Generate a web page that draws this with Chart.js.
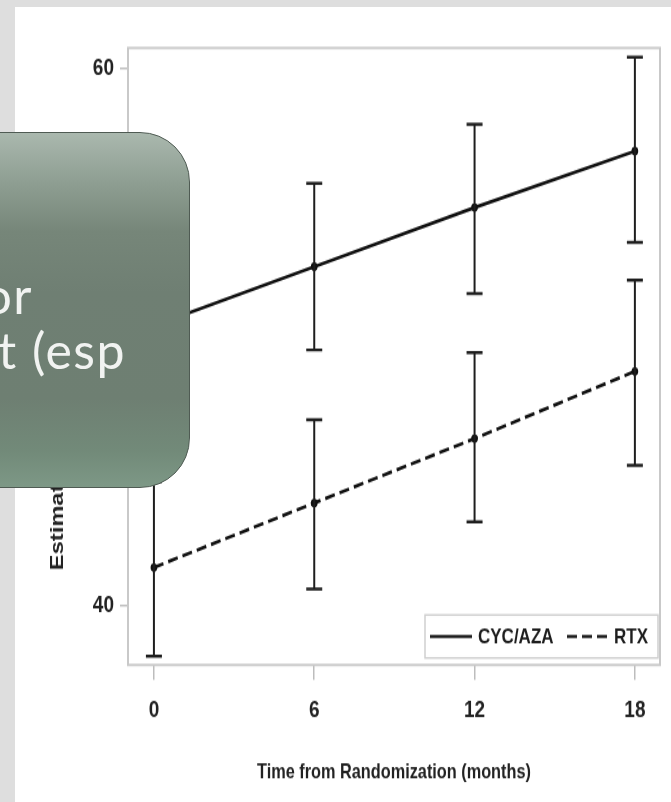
<!DOCTYPE html>
<html>
<head>
<meta charset="utf-8">
<script src="https://cdn.jsdelivr.net/npm/chart.js@4.4.1/dist/chart.umd.min.js"></script>
<style>
  html, body { margin: 0; padding: 0; }
  body { width: 671px; height: 802px; background: #dedede; position: relative; overflow: hidden; }
  #panel { position: absolute; left: 15px; top: 7px; right: 0; bottom: 0; background: #ffffff; }
  /* ảnh gốc bị kéo giãn theo chiều dọc, nên vẽ thấp hơn rồi giãn ra */
  #wrap { position: absolute; left: 0; top: 0; width: 671px; height: 642px; transform: scaleY(1.2492); transform-origin: 0 0; }
  #note {
    position: absolute; left: -60px; top: 132px; width: 248px; height: 354px;
    border: 1.5px solid #4f5b53; border-radius: 50px;
    background: linear-gradient(to bottom, #aab8ae 0%, #8e9e92 14%, #768679 28%, #6f7f73 45%, #6e7f72 75%, #728a79 90%, #7d9886 100%);
    font-family: "Lato", "Open Sans", sans-serif; font-weight: 400; color: #f1f3f1;
    font-size: 50px; line-height: 48px; letter-spacing: 1.5px;
  }
  #note span { position: absolute; white-space: nowrap; }
</style>
</head>
<body>
<div id="panel"></div>
<div id="wrap"><canvas id="trendChart"></canvas></div>
<div id="note">
  <span style="right:156px; top:138px;">or</span>
  <span style="right:63px; top:193px;">t (esp</span>
</div>
<script>
// Dữ liệu
const months = [0, 6, 12, 18];
const cycMean = [50.4, 52.6, 54.8, 56.9];
const cycLower = [47.2, 49.5, 51.6, 53.5];
const cycUpper = [53.5, 55.7, 57.9, 60.4];
const rtxMean = [41.4, 43.8, 46.2, 48.7];
const rtxLower = [38.1, 40.6, 43.1, 45.2];
const rtxUpper = [44.6, 46.9, 49.4, 52.1];
const xTicks = [0, 6, 12, 18];
const yTicks = [40, 50, 60];
const seriesNames = ['CYC/AZA', 'RTX'];

const sansFont = '"Liberation Sans", Arial, sans-serif';

function toPoints(xs, ys) {
    return xs.map((x, i) => ({ x: x, y: ys[i] }));
}

// Khung viền vùng vẽ
const framePlugin = {
    id: 'frame',
    beforeDatasetsDraw(chart) {
        const { ctx, chartArea } = chart;
        ctx.save();
        ctx.strokeStyle = '#c9c9c9';
        ctx.lineWidth = 2;
        ctx.strokeRect(chartArea.left, chartArea.top, chartArea.right - chartArea.left, chartArea.bottom - chartArea.top);
        ctx.restore();
    }
};

// Thanh sai số
const errorBarPlugin = {
    id: 'errorBars',
    afterDatasetsDraw(chart) {
        const { ctx } = chart;
        const xs = chart.scales.x;
        const ys = chart.scales.y;
        const bounds = [[cycLower, cycUpper], [rtxLower, rtxUpper]];
        ctx.save();
        ctx.strokeStyle = '#1e1e1e';
        bounds.forEach(([lo, hi]) => {
            months.forEach((m, i) => {
                const x = xs.getPixelForValue(m);
                const yLo = ys.getPixelForValue(lo[i]);
                const yHi = ys.getPixelForValue(hi[i]);
                ctx.lineWidth = 2;
                ctx.beginPath();
                ctx.moveTo(x, yLo);
                ctx.lineTo(x, yHi);
                ctx.stroke();
                ctx.lineWidth = 2.4;
                ctx.beginPath();
                ctx.moveTo(x - 8, yLo);
                ctx.lineTo(x + 8, yLo);
                ctx.moveTo(x - 8, yHi);
                ctx.lineTo(x + 8, yHi);
                ctx.stroke();
            });
        });
        ctx.restore();
    }
};

// Chú thích bên trong vùng vẽ
const insideLegendPlugin = {
    id: 'insideLegend',
    afterDraw(chart) {
        const { ctx, chartArea } = chart;
        const boxRight = chartArea.right - 2;
        const boxLeft = boxRight - 233;
        const boxTop = chartArea.bottom - 40;
        const boxBottom = chartArea.bottom - 5.6;
        const midY = (boxTop + boxBottom) / 2;
        ctx.save();
        ctx.fillStyle = '#ffffff';
        ctx.fillRect(boxLeft, boxTop, boxRight - boxLeft, boxBottom - boxTop);
        ctx.strokeStyle = '#cfcfcf';
        ctx.lineWidth = 1.5;
        ctx.strokeRect(boxLeft, boxTop, boxRight - boxLeft, boxBottom - boxTop);

        ctx.font = 'bold 17px ' + sansFont;
        ctx.fillStyle = '#1e1e1e';
        ctx.textBaseline = 'middle';
        ctx.strokeStyle = '#1e1e1e';
        ctx.lineWidth = 2.6;

        let x = boxLeft + 5;
        ctx.setLineDash([]);
        ctx.beginPath();
        ctx.moveTo(x, midY);
        ctx.lineTo(x + 42, midY);
        ctx.stroke();
        ctx.fillText(seriesNames[0], x + 48, midY + 1);

        x = boxLeft + 142;
        ctx.setLineDash([10, 5]);
        ctx.beginPath();
        ctx.moveTo(x, midY);
        ctx.lineTo(x + 42, midY);
        ctx.stroke();
        ctx.setLineDash([]);
        ctx.fillText(seriesNames[1], x + 47, midY + 1);
        ctx.restore();
    }
};

const ctxTrend = document.getElementById('trendChart').getContext('2d');

new Chart(ctxTrend, {
    type: 'line',
    data: {
        datasets: [{
            label: seriesNames[0],
            data: toPoints(months, cycMean),
            borderColor: '#111111',
            backgroundColor: '#111111',
            borderWidth: 2.7,
            pointRadius: 2,
            fill: false
        }, {
            label: seriesNames[1],
            data: toPoints(months, rtxMean),
            borderColor: '#111111',
            backgroundColor: '#111111',
            borderWidth: 2.7,
            borderDash: [10, 5],
            pointRadius: 2,
            fill: false
        }]
    },
    options: {
        responsive: true,
        maintainAspectRatio: false,
        animation: false,
        layout: {
            padding: { left: 0, top: 38.4, right: 11, bottom: 0 }
        },
        plugins: {
            legend: { display: false },
            tooltip: { enabled: false }
        },
        scales: {
            x: {
                type: 'linear',
                min: -0.97,
                max: 18.94,
                afterBuildTicks: (scale) => { scale.ticks = xTicks.map(v => ({ value: v })); },
                afterFit: (scale) => { scale.height = 109.7; },
                grid: {
                    drawOnChartArea: false,
                    drawTicks: true,
                    tickLength: 12,
                    color: '#bdbdbd',
                    lineWidth: 1.5
                },
                border: { display: false },
                ticks: {
                    padding: 13.5,
                    color: '#222222',
                    font: { family: sansFont, size: 19, weight: 'bold' }
                },
                title: {
                    display: true,
                    text: 'Time from Randomization (months)',
                    color: '#222222',
                    font: { family: sansFont, size: 16.3, weight: 'bold' },
                    padding: { top: 0, bottom: 13.4 }
                }
            },
            y: {
                type: 'linear',
                min: 37.77,
                max: 60.74,
                afterBuildTicks: (scale) => { scale.ticks = yTicks.map(v => ({ value: v })); },
                afterFit: (scale) => { scale.width = 128; },
                grid: {
                    drawOnChartArea: false,
                    drawTicks: true,
                    tickLength: 8,
                    color: '#bdbdbd',
                    lineWidth: 1.5
                },
                border: { display: false },
                ticks: {
                    padding: 6,
                    color: '#222222',
                    font: { family: sansFont, size: 19, weight: 'bold' }
                },
                title: {
                    display: true,
                    text: 'Estimated Mean SF-36 Physical Score',
                    color: '#222222',
                    font: { family: sansFont, size: 19, weight: 'bold' },
                    padding: { top: 46.6, bottom: 0 }
                }
            }
        }
    },
    plugins: [framePlugin, errorBarPlugin, insideLegendPlugin]
});
</script>
</body>
</html>
